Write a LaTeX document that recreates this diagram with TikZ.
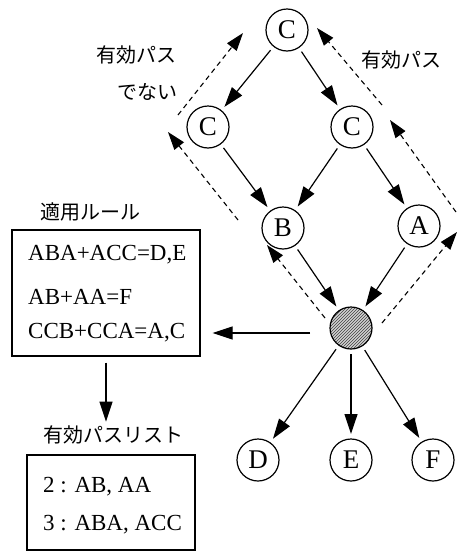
\documentclass[tikz,border=0pt]{standalone}
\usepackage{fontspec}
\setmainfont{Liberation Serif}
\newfontfamily\jp{Noto Sans CJK JP}
\usetikzlibrary{arrows.meta,patterns}
\begin{document}
\begin{tikzpicture}[x=1pt,y=-1pt,
  nd/.style={circle,draw,line width=1.2pt,minimum size=42pt,inner sep=0pt,outer sep=5pt,font=\fontsize{27}{27}\selectfont},
  arr/.style={line width=1.2pt,-{Triangle[length=20pt,width=13pt]}},
  darr/.style={line width=1.1pt,dash pattern=on 5pt off 4pt,-{Triangle[length=18pt,width=12pt]}},
  lbl/.style={font=\jp\fontsize{20}{22}\selectfont,inner sep=0pt},
  txt/.style={font=\fontsize{23}{25}\selectfont,inner sep=0pt,anchor=west},
  bx/.style={draw,line width=1.2pt,inner sep=0pt}]
\useasboundingbox (0,0) rectangle (457,552);
\node[nd] (Ct) at (287,30) {C};
\node[nd] (Cl) at (208,127) {C};
\node[nd] (Cr) at (352,127) {C};
\node[nd] (B) at (283,228) {B};
\node[nd] (A) at (419,226) {A};
\node[nd,preaction={fill=gray!35},pattern=north east lines,pattern color=black!75] (H) at (351,328) {};
\node[nd] (D) at (258,460) {D};
\node[nd] (E) at (351,460) {E};
\node[nd] (F) at (433,460) {F};
\draw[arr] (Ct) -- (Cl);
\draw[arr] (Ct) -- (Cr);
\draw[arr] (Cl) -- (B);
\draw[arr] (Cr) -- (B);
\draw[arr] (Cr) -- (A);
\draw[arr] (B) -- (H);
\draw[arr] (A) -- (H);
\draw[arr] (H) -- (D);
\draw[arr] (H) -- (E);
\draw[arr] (H) -- (F);
% labels
\node[lbl,anchor=east] (l1) at (177,55) {有効パス};
\node[lbl,anchor=east] (l2) at (178,92) {でない};
\node[lbl] (l3) at (401,60) {有効パス};
% dashed arrows
\coordinate (a1) at (325,318); \coordinate (b1) at (267,245);
\coordinate (a2) at (238,220); \coordinate (b2) at (168,132);
\coordinate (a3) at (178,115); \coordinate (b3) at (243,33);
\coordinate (a4) at (382,323); \coordinate (b4) at (457,232);
\coordinate (a5) at (456,212); \coordinate (b5) at (390,120);
\coordinate (a6) at (382,105); \coordinate (b6) at (317,28);
\draw[darr] (a1) -- (b1);
\draw[darr] (a2) -- (b2);
\draw[darr] (a3) -- (b3);
\draw[darr] (a4) -- (b4);
\draw[darr] (a5) -- (b5);
\draw[darr] (a6) -- (b6);
% rule box
\node[lbl] (t1) at (90,212) {適用ルール};
\node[bx,minimum width=188pt,minimum height=126pt] (box1) at (106,293) {};
\node[txt] (r1) at (28,255) {ABA+ACC=D,E};
\node[txt] (r2) at (28,297) {AB+AA=F};
\node[txt] (r3) at (28,333) {CCB+CCA=A,C};
\coordinate (hs) at (310,333);
\draw[arr,shorten >=12pt] (hs) -- (hs -| box1.east);
% list
\node[lbl] (t2) at (113,435) {有効パスリスト};
\draw[arr,shorten <=6pt,shorten >=4pt] (box1.south) -- (t2.north -| box1.south);
\node[bx,minimum width=168pt,minimum height=95pt] (box2) at (111,502.5) {};
\node[txt] (p1) at (43,487) {2 : AB, AA};
\node[txt] (p2) at (43,525) {3 : ABA, ACC};
\end{tikzpicture}
\end{document}
